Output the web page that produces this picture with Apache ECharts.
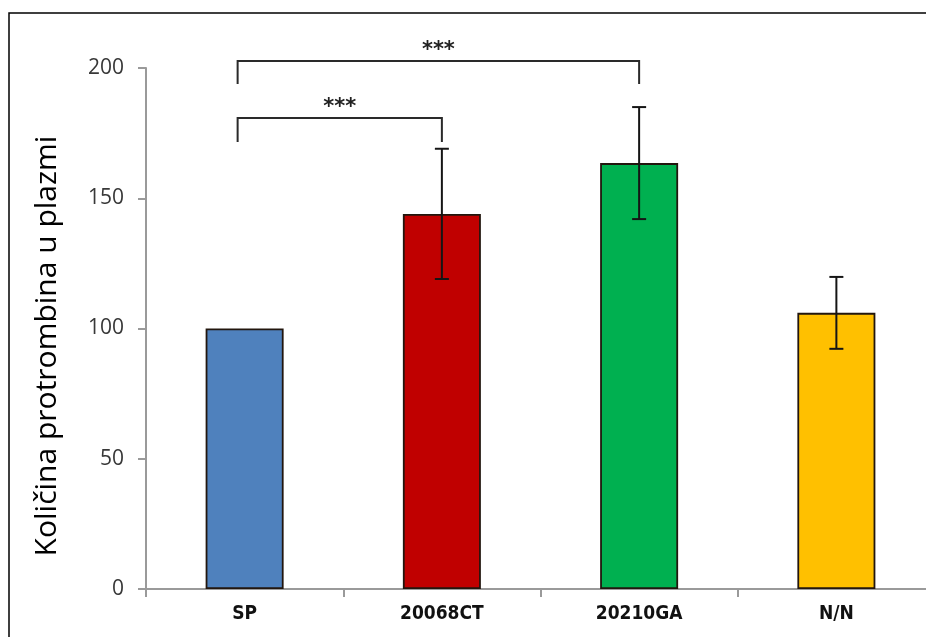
<!DOCTYPE html>
<html>
<head>
<meta charset="utf-8">
<script src="https://cdn.jsdelivr.net/npm/echarts@6/dist/echarts.min.js"></script>
<style>html,body{margin:0;padding:0;background:#fff}#c{width:926px;height:637px}</style>
</head>
<body>
<div id="c"></div>
<script>
const categories = ['SP', '20068CT', '20210GA', 'N/N'];
const values = [100, 144, 163.5, 106];
const errors = [0, 25, 21.5, 13.8];
const barColors = ['#4F81BD', '#C00000', '#00B050', '#FFC000'];
const yTicks = [0, 50, 100, 150, 200];
// brackets: [startCategory, endCategory, lineLevel, dropLevel, label]
const brackets = [
  [0, 2, 202.7, 193.9, '***'],
  [0, 1, 180.8, 171.6, '***']
];
const yTitle = 'Količina protrombina u plazmi';

const chart = echarts.init(document.getElementById('c'), null, {renderer: 'canvas'});

const option = {
  animation: false,
  backgroundColor: '#fff',
  grid: {left: 146, top: 68, bottom: 48, right: -9, containLabel: false, outerBoundsMode: 'none'},
  xAxis: {
    type: 'category',
    data: categories,
    axisLine: {lineStyle: {color: '#9a9a9a', width: 2}},
    axisTick: {show: true, length: 8, lineStyle: {color: '#9a9a9a', width: 2}},
    axisLabel: {fontFamily: 'DejaVu Sans Condensed, Liberation Sans', fontWeight: 'bold', fontSize: 19, color: '#111', margin: 16}
  },
  yAxis: {
    type: 'value',
    min: yTicks[0], max: yTicks[yTicks.length - 1], interval: 50,
    splitLine: {show: false},
    axisLine: {show: true, lineStyle: {color: '#9a9a9a', width: 2}},
    axisTick: {show: true, length: 8, lineStyle: {color: '#9a9a9a', width: 2}},
    axisLabel: {fontFamily: 'Open Sans', fontSize: 21, color: '#383838', margin: 22}
  },
  graphic: [
    {type: 'polyline', shape: {points: [[9, 650], [9, 13], [940, 13]]}, style: {fill: 'none', stroke: '#000', lineWidth: 1.5}, z: 100},
    {type: 'text', x: 47, y: 346, rotation: Math.PI / 2,
     style: {text: yTitle, fontFamily: 'Open Sans', fontSize: 30, fill: '#000', textAlign: 'center', textVerticalAlign: 'middle'}}
  ],
  series: [
    {
      type: 'bar',
      barWidth: 78,
      data: values.map((v, i) => ({value: v, itemStyle: {color: barColors[i]}})),
      itemStyle: {borderColor: '#22160e', borderWidth: 1.8}
    },
    {
      type: 'custom',
      z: 5,
      clip: false,
      data: values.map((v, i) => [i, v - errors[i], v + errors[i]]),
      encode: {x: 0, y: [1, 2]},
      renderItem: function (params, api) {
        const i = api.value(0);
        if (errors[i] === 0) return null;
        const lo = api.coord([i, api.value(1)]);
        const hi = api.coord([i, api.value(2)]);
        const hw = 7;
        const st = {stroke: '#151515', lineWidth: 2};
        return {type: 'group', children: [
          {type: 'line', shape: {x1: lo[0], y1: lo[1], x2: hi[0], y2: hi[1]}, style: st},
          {type: 'line', shape: {x1: lo[0] - hw, y1: lo[1], x2: lo[0] + hw, y2: lo[1]}, style: st},
          {type: 'line', shape: {x1: hi[0] - hw, y1: hi[1], x2: hi[0] + hw, y2: hi[1]}, style: st}
        ]};
      }
    },
    {
      type: 'custom',
      z: 6,
      clip: false,
      data: brackets.map(b => [b[0], b[1], b[2], b[3]]),
      encode: {x: 0, y: 2},
      renderItem: function (params, api) {
        const s = api.value(0), e = api.value(1), top = api.value(2), drop = api.value(3);
        const p1 = api.coord([s, top]);
        const p2 = api.coord([e, top]);
        const d = api.coord([s, drop]);
        const x1 = p1[0] - 7, x2 = p2[0];
        const st = {stroke: '#2a2a2a', lineWidth: 2, fill: 'none'};
        return {type: 'group', children: [
          {type: 'polyline', shape: {points: [[x1, d[1]], [x1, p1[1]], [x2, p1[1]], [x2, d[1]]]}, style: st},
          {type: 'text', x: (x1 + x2) / 2, y: p1[1] - 10,
           style: {text: brackets[params.dataIndex][4], fontFamily: 'DejaVu Sans', fontWeight: 'bold', fontSize: 21, fill: '#222', textAlign: 'center', textVerticalAlign: 'middle'}}
        ]};
      }
    }
  ]
};
chart.setOption(option);
</script>
</body>
</html>
